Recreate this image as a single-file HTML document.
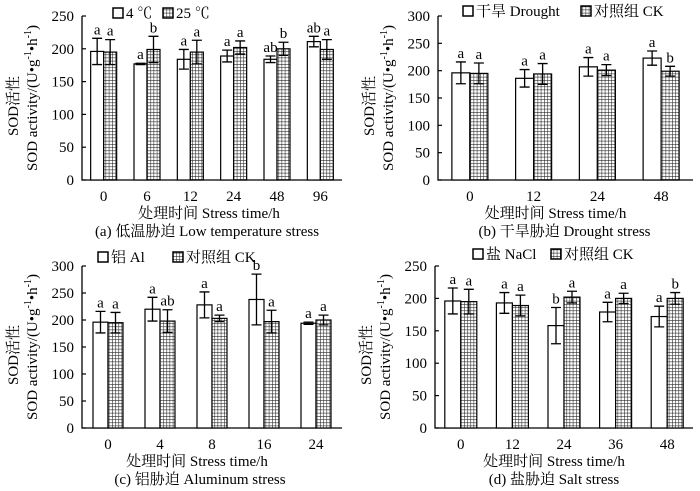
<!DOCTYPE html>
<html><head><meta charset="utf-8">
<style>
html,body{margin:0;padding:0;background:#fff;}
svg{display:block;font-family:"Liberation Serif","Noto Serif CJK SC","Noto Sans CJK SC",serif;}
</style></head>
<body>
<svg id="fig" width="700" height="491" viewBox="0 0 700 491" xmlns="http://www.w3.org/2000/svg">
<defs>
<pattern id="grid" width="3.2" height="3.2" patternUnits="userSpaceOnUse">
<rect width="3.2" height="3.2" fill="#fff"/>
<path d="M0 0H3.2M0 0V3.2" stroke="#222" stroke-width="1.1" fill="none"/>
</pattern>
</defs>
</svg>
<script>
// Panel (a) low temperature
const catsA = ["0","6","12","24","48","96"];
const trtA = [196,177,184,189,184,211];
const trtErrA = [20,1,15,9,5,8];
const ckA = [195,199,195,202,200,199];
const ckErrA = [19,20,18,10,10,15];
const trtLabA = ["a","a","a","a","ab","ab"];
const ckLabA = ["a","b","a","a","b","a"];
const ticksA = [0,50,100,150,200,250];
// Panel (b) drought
const catsB = ["0","12","24","48"];
const trtB = [196,186,207,223];
const trtErrB = [20,16,17,13];
const ckB = [195,194,201,199];
const ckErrB = [19,19,10,9];
const trtLabB = ["a","a","a","a"];
const ckLabB = ["a","a","a","b"];
const ticksB = [0,50,100,150,200,250,300];
// Panel (c) aluminum
const catsC = ["0","4","8","16","24"];
const trtC = [196,220,228,238,194];
const trtErrC = [20,22,24,47,2];
const ckC = [195,198,203,197,200];
const ckErrC = [19,21,6,21,9];
const trtLabC = ["a","a","a","b","a"];
const ckLabC = ["a","ab","a","a","a"];
const ticksC = [0,50,100,150,200,250,300];
// Panel (d) salt
const catsD = ["0","12","24","36","48"];
const trtD = [196,193,158,179,172];
const trtErrD = [20,16,28,15,16];
const ckD = [195,189,202,200,200];
const ckErrD = [19,16,9,8,9];
const trtLabD = ["a","a","b","a","a"];
const ckLabD = ["a","a","a","a","b"];
const ticksD = [0,50,100,150,200,250];

const NS="http://www.w3.org/2000/svg";
const svg=document.getElementById('fig');
function mk(tag,attrs,parent,text){
  const e=document.createElementNS(NS,tag);
  for(const k in attrs)e.setAttribute(k,attrs[k]);
  if(text!==undefined)e.textContent=text;
  (parent||svg).appendChild(e);return e;
}
function panel(id,cfg,cats,trt,trtErr,ck,ckErr,trtLab,ckLab,ticks){
  const g=mk('g',{});
  
  
  const {x0,x1,y0,yTop,ymax,bw}=cfg;
  const ys=v=>y0-(v/ymax)*(y0-yTop);
  const band=(x1-x0)/cats.length;
  const cx=i=>x0+band*(i+0.5);
  // axes
  const ax=mk('path',{d:`M${x0} ${yTop}V${y0}H${x1}`,stroke:'#000','stroke-width':1.3,fill:'none'},g);
  
  
  ticks.forEach(t=>{
    mk('line',{x1:x0,x2:x0+4,y1:ys(t),y2:ys(t),stroke:'#000','stroke-width':1.2},g);
    const tl=mk('text',{x:x0-8,y:ys(t)+5,'text-anchor':'end','font-size':15},g,String(t));
    
    
  });
  cats.forEach((c,i)=>{
    const xl=cx(i)-bw, xr=cx(i);
    const b1=mk('rect',{x:xl,y:ys(trt[i]),width:bw,height:y0-ys(trt[i]),fill:'#fff',stroke:'#000','stroke-width':1.2},g);
    
    
    const b2=mk('rect',{x:xr,y:ys(ck[i]),width:bw,height:y0-ys(ck[i]),fill:'url(#grid)',stroke:'#000','stroke-width':1.2},g);
    
    
    [[xl+bw/2,trt[i],trtErr[i],trtLab[i]],[xr+bw/2,ck[i],ckErr[i],ckLab[i]]].forEach(([mx,v,e,l])=>{
      const eb=mk('path',{d:`M${mx} ${ys(v-e)}V${ys(v+e)}M${mx-5} ${ys(v+e)}H${mx+5}M${mx-5} ${ys(v-e)}H${mx+5}`,stroke:'#000','stroke-width':1.3,fill:'none'},g);
      
      
      const lt=mk('text',{x:mx,y:ys(v+e)-4,'text-anchor':'middle','font-size':15},g,l);
      
      
    });
    const xt=mk('text',{x:cx(i),y:y0+21,'text-anchor':'middle','font-size':15},g,c);
    
    
  });
  const mid=(x0+x1)/2;
  const xtit=mk('text',{x:mid+cfg.xtOff,y:y0+38,'text-anchor':'middle','font-size':15},g,'处理时间 Stress time/h');
  
  
  const cap=mk('text',{x:mid+cfg.capOff,y:y0+56,'text-anchor':'middle','font-size':15},g,cfg.caption);
  
  
  const ymid=(y0+yTop)/2;
  const t1=mk('text',{x:0,y:0,'text-anchor':'middle','font-size':15,transform:`translate(${x0-64},${ymid+8}) rotate(-90)`},g,'SOD活性');
  
  
  const t2=mk('text',{x:0,y:0,'text-anchor':'middle','font-size':15,transform:`translate(${x0-45},${ymid}) rotate(-90)`},g);
  
  
  t2.innerHTML='SOD activity/(U•g<tspan dy="-6" font-size="10">-1</tspan><tspan dy="6">•h</tspan><tspan dy="-6" font-size="10">-1</tspan><tspan dy="6">)</tspan>';
  // legend
  const lg=mk('g',{},g);
  
  
  const [lx,ly]=cfg.leg;
  mk('rect',{x:lx,y:ly-10,width:10,height:10,fill:'#fff',stroke:'#000','stroke-width':1.5},lg);
  mk('text',{x:lx+13,y:ly,'font-size':15},lg,cfg.l1);
  const l2x=lx+cfg.l2x;
  mk('rect',{x:l2x,y:ly-10,width:10,height:10,fill:'url(#grid)',stroke:'#000','stroke-width':1.5},lg);
  mk('text',{x:l2x+13,y:ly,'font-size':15},lg,cfg.l2);
}
panel('a',{x0:82,x1:342,y0:180,yTop:16,ymax:250,bw:13,caption:'(a) 低温胁迫 Low temperature stress',xtOff:-3,capOff:-5,leg:[113,18],l1:'4 ℃',l2x:50,l2:'25 ℃'},catsA,trtA,trtErrA,ckA,ckErrA,trtLabA,ckLabA,ticksA);
panel('b',{x0:438,x1:693,y0:180,yTop:16,ymax:300,bw:18,caption:'(b) 干旱胁迫 Drought stress',xtOff:-10,capOff:-1,leg:[463,16],l1:'干旱 Drought',l2x:118,l2:'对照组 CK'},catsB,trtB,trtErrB,ckB,ckErrB,trtLabB,ckLabB,ticksB);
panel('c',{x0:82,x1:342,y0:428,yTop:266,ymax:300,bw:15,caption:'(c) 铝胁迫 Aluminum stress',xtOff:-15,capOff:-12,leg:[98,262],l1:'铝 Al',l2x:75,l2:'对照组 CK'},catsC,trtC,trtErrC,ckC,ckErrC,trtLabC,ckLabC,ticksC);
panel('d',{x0:435,x1:693,y0:428,yTop:266,ymax:250,bw:16,caption:'(d) 盐胁迫 Salt stress',xtOff:-10,capOff:-10,leg:[473,259],l1:'盐 NaCl',l2x:78,l2:'对照组 CK'},catsD,trtD,trtErrD,ckD,ckErrD,trtLabD,ckLabD,ticksD);
</script>
</body></html>
